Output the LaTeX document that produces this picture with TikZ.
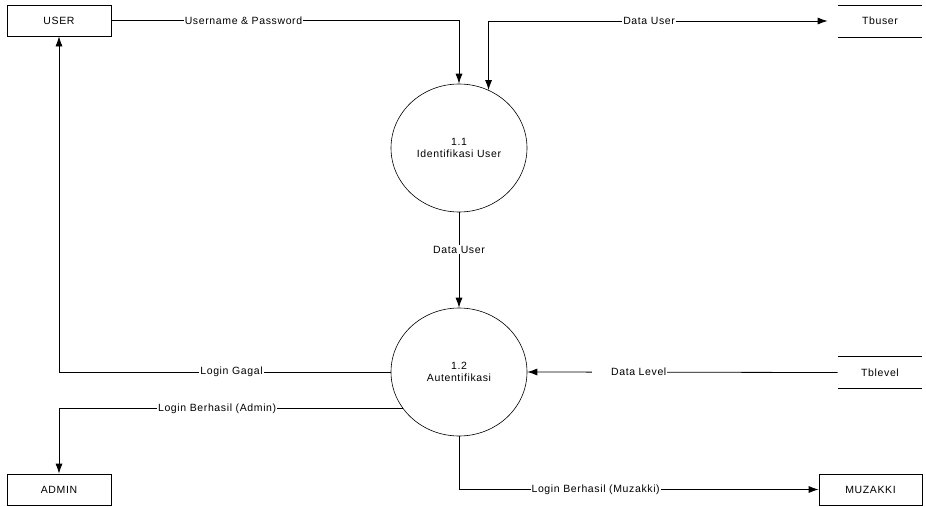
\documentclass[tikz,border=0pt]{standalone}
\usepackage{fontspec}
\setmainfont[LetterSpace=6]{Liberation Sans}
\usetikzlibrary{arrows.meta,positioning,shapes.geometric}

\begin{document}
\begin{tikzpicture}[x=1pt,y=-1pt,line width=0.8pt,
  every node/.style={font=\fontsize{10.5}{12.5}\selectfont},
  panah/.style={-{Latex[length=10pt,width=7pt]}},
  entitas/.style={draw,minimum width=104pt,minimum height=31pt,inner sep=0pt},
  proses/.style={draw,ellipse,line width=0.6pt,minimum width=136pt,minimum height=128pt,align=center,inner sep=0pt},
  simpan/.style={minimum width=84pt,minimum height=31pt,inner sep=0pt},
  lbl/.style={fill=white,inner sep=1pt}]
  \useasboundingbox (0,0) rectangle (926,506);
  % entitas luar
  \node[entitas] (user) at (59,20.5) {USER};
  \node[entitas] (admin) at (59,489.5) {ADMIN};
  \node[entitas,minimum width=103pt] (muzakki) at (870.5,489.5) {MUZAKKI};
  % proses
  \node[proses] (p11) at (459,148) {1.1\\Identifikasi User};
  \node[proses] (p12) at (459,372) {1.2\\Autentifikasi};
  % data store
  \node[simpan] (tbuser) at (880,21) {Tbuser};
  \draw (tbuser.north west) -- (tbuser.north east);
  \draw (tbuser.south west) -- (tbuser.south east);
  \node[simpan] (tblevel) at (880,372.5) {Tblevel};
  \draw (tblevel.north west) -- (tblevel.north east);
  \draw (tblevel.south west) -- (tblevel.south east);
  % aliran data
  \draw[panah] (user.east) -| node[lbl,pos=0.19]{Username \& Password} (p11.north);
  \draw[{Latex[length=10pt,width=7pt]}-{Latex[length=10pt,width=7pt]},shorten >=10pt] (p11.63) |- node[lbl,pos=0.73]{Data User} (tbuser.west);
  \draw[panah] (p11.south) -- node[lbl,pos=0.39]{Data User} (p12.north);
  \draw[panah] (p12.west) -| node[lbl,pos=0.24]{Login Gagal} (user.south);
  \draw[panah] (p12.213) -| node[lbl,pos=0.27]{Login Berhasil (Admin)} (admin.north);
  \draw[panah] (tblevel.west) -- node[lbl,pos=0.67]{\hspace*{18pt}Data Level} (p12.east);
  \draw[panah] (p12.south) |- node[lbl,pos=0.69]{Login Berhasil (Muzakki)} (muzakki.west);
\end{tikzpicture}
\end{document}
